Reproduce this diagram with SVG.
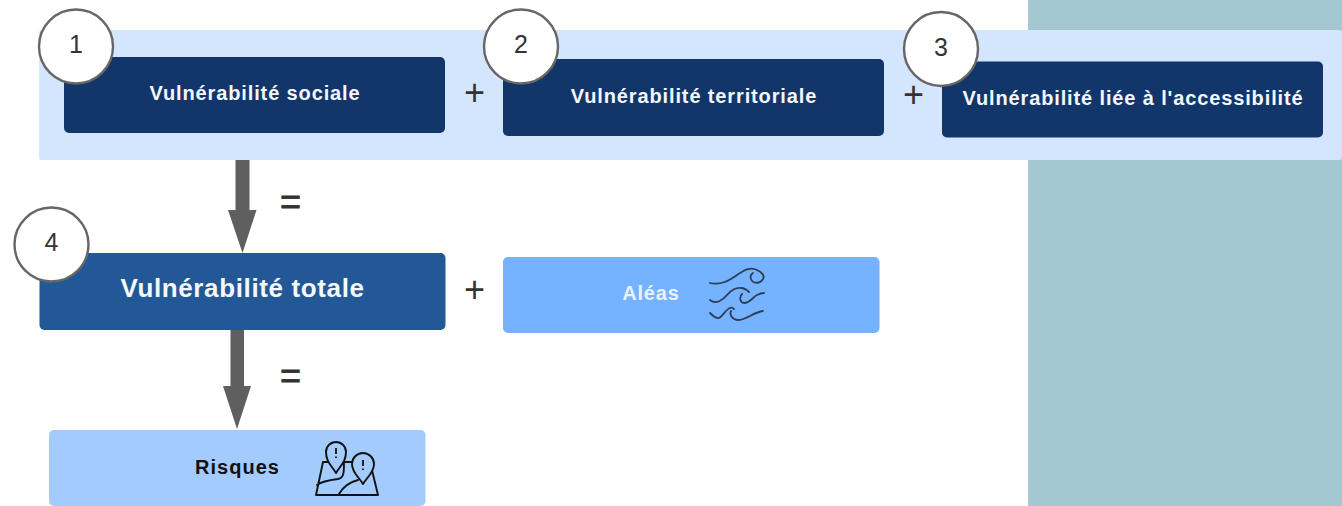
<svg xmlns="http://www.w3.org/2000/svg" width="1342" height="506" viewBox="0 0 1342 506">
<style>
text{font-family:"Liberation Sans",Arial,sans-serif}
.b{font-weight:700;text-anchor:middle;font-size:20px;letter-spacing:.87px}
.w{fill:#f4f7fb}
.dark{fill:#12356a}
.num{fill:#fff;stroke:#666;stroke-width:2.4}
.nt{font-size:25px;fill:#333;text-anchor:middle}
.op{font-size:36px;fill:#333;text-anchor:middle}
.eq{stroke:#333;stroke-width:.8}
.ic{fill:none;stroke:#2b3d58;stroke-width:1.8;stroke-linecap:round;stroke-linejoin:round}
.ic2{fill:none;stroke:#111;stroke-width:1.9;stroke-linecap:round;stroke-linejoin:round}
.pin{fill:#a3cbfe;stroke:#111;stroke-width:1.9;stroke-linejoin:round}
.arrow{fill:#5f5f5f}
</style>
<rect width="1342" height="506" fill="#fff"/>
<rect x="1028" y="0" width="314" height="506" fill="#a3c8d2"/>
<rect id="band" x="39" y="30" width="1303" height="130" rx="3" fill="#d4e6fd"/>
<g id="connectors">
<path class="arrow" d="M235.500 160H249.500V210H256.500L242.500 253L228 210H235.500Z"/>
<path class="arrow" d="M230.500 330H244V386H251L237 429L223 386H230.500Z"/>
</g>
<g id="node-1">
<rect class="dark" x="64" y="57" width="381" height="76" rx="5"/>
<text class="b w" x="255" y="100">Vulnérabilité sociale</text>
<circle class="num" cx="76" cy="46.500" r="37"/>
<text class="nt" x="76" y="53">1</text>
</g>
<g id="node-2">
<rect class="dark" x="503" y="59" width="381" height="77" rx="5"/>
<text class="b w" x="694" y="103">Vulnérabilité territoriale</text>
<circle class="num" cx="521" cy="46.500" r="37"/>
<text class="nt" x="521" y="53">2</text>
</g>
<g id="node-3">
<rect class="dark" x="942" y="61.500" width="381" height="76" rx="5"/>
<text class="b w" x="1133" y="105">Vulnérabilité liée à l'accessibilité</text>
<circle class="num" cx="941" cy="49" r="37"/>
<text class="nt" x="941" y="55.500">3</text>
</g>
<g id="node-4">
<rect x="39.500" y="253" width="406" height="77" rx="5" fill="#235896"/>
<text class="b w" x="242.500" y="297" style="font-size:26px;letter-spacing:.63px">Vulnérabilité totale</text>
<circle class="num" cx="51.500" cy="244.500" r="37"/>
<text class="nt" x="51.500" y="251">4</text>
</g>
<g id="node-aleas">
<rect x="503" y="257" width="376.500" height="76" rx="5" fill="#75b2ff"/>
<text class="b" x="651" y="300" fill="#e8f2ff">Aléas</text>
<path class="ic" d="M710 283C722 286 731 279 737 275C743 271 750 266 757 270C762 272 765 276 763 279C760 284 753 284 751 279C750 276 751 274 753 273"/>
<path class="ic" d="M710 300C716 305 723 300 727 295C731 290 737 287 741 288C744 288 747 290 749 292M742 294C739 297 740 303 744 303C750 303 753 297 757 295C759 294 762 293 764 293"/>
<path class="ic" d="M710 313C713 316 716 319 719 318C723 316 726 309 730 308C732 307 733 308 734 309M731 311C729 315 733 320 738 320C746 320 754 312 763 311"/>
</g>
<g id="node-risques">
<rect x="49" y="430" width="376.500" height="76" rx="5" fill="#a3cbfe"/>
<text class="b" x="237.500" y="473.500" fill="#111" style="letter-spacing:1px">Risques</text>
<path class="ic2" d="M323 462L316 495H378L371 466M323 462H355M317 485C322 481 330 480 338 479C344 478 344 472 344 463M339 494C343 487 350 482 358 480"/>
<path class="pin" d="M336 473C332 466 326 462 326 452A10 10 0 0 1 346 452C346 462 340 466 336 473Z"/>
<path class="pin" d="M363 484C359 477 352 473 352 464A11 11 0 0 1 374 464C374 473 367 477 363 484Z"/>
<path d="M336 448V454M336 456.500V458M363 460V466M363 468.500V470" fill="none" stroke="#111" stroke-width="1.8"/>
</g>
<g id="operators">
<text class="op" x="474.500" y="105">+</text>
<text class="op" x="913.500" y="107">+</text>
<text class="op" x="474.500" y="302">+</text>
<text class="op eq" x="290.500" y="214">=</text>
<text class="op eq" x="290.500" y="388">=</text>
</g>
</svg>
